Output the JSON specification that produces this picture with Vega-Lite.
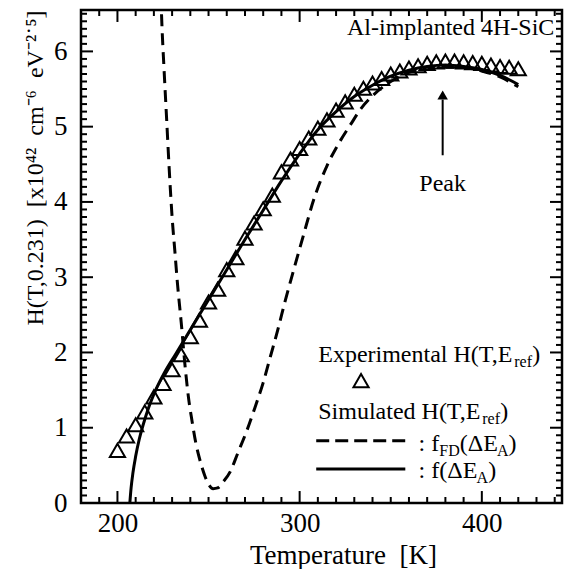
{
  "$schema": "https://vega.github.io/schema/vega-lite/v6.json",
  "width": 481,
  "height": 493,
  "autosize": {"type": "none"},
  "padding": {"left": 81, "top": 10, "right": 10, "bottom": 66},
  "background": "white",
  "config": {
    "view": {"stroke": "black", "strokeWidth": 2.5},
    "font": "Liberation Serif",
    "text": {"font": "Liberation Serif"},
    "axis": {
      "domain": false, "grid": false, "ticks": false,
      "labelFont": "Liberation Serif", "labelFontSize": 27, "labelColor": "black",
      "titleFont": "Liberation Serif", "titleFontSize": 27, "titleFontWeight": "normal", "titleColor": "black"
    }
  },
  "datasets": {
    "exp": [
      {"T":200,"H":0.70},{"T":205,"H":0.89},{"T":210,"H":1.04},{"T":215,"H":1.21},{"T":220,"H":1.41},
      {"T":225,"H":1.59},{"T":230,"H":1.77},{"T":235,"H":1.97},{"T":240,"H":2.21},{"T":245,"H":2.43},
      {"T":250,"H":2.67},{"T":255,"H":2.84},{"T":260,"H":3.10},{"T":265,"H":3.26},{"T":270,"H":3.52},
      {"T":275,"H":3.72},{"T":280,"H":3.91},{"T":285,"H":4.09},{"T":290,"H":4.40},{"T":295,"H":4.57},
      {"T":300,"H":4.71},{"T":305,"H":4.85},{"T":310,"H":4.98},{"T":315,"H":5.09},{"T":320,"H":5.22},
      {"T":325,"H":5.33},{"T":330,"H":5.43},{"T":335,"H":5.51},{"T":340,"H":5.58},{"T":345,"H":5.64},
      {"T":350,"H":5.70},{"T":355,"H":5.74},{"T":360,"H":5.78},{"T":365,"H":5.81},{"T":370,"H":5.84},
      {"T":375,"H":5.86},{"T":380,"H":5.87},{"T":385,"H":5.87},{"T":390,"H":5.86},{"T":395,"H":5.85},
      {"T":400,"H":5.84},{"T":405,"H":5.82},{"T":410,"H":5.80},{"T":415,"H":5.79},{"T":420,"H":5.77}
    ],
    "fd": [
      {"T":223.5,"H":7.0},{"T":224.5,"H":6.3},{"T":225.5,"H":5.8},{"T":227,"H":5.1},{"T":228.5,"H":4.4},
      {"T":230,"H":3.8},{"T":231.5,"H":3.35},{"T":233,"H":2.9},{"T":235,"H":2.4},{"T":237,"H":1.85},
      {"T":239,"H":1.4},{"T":241,"H":1.08},{"T":243,"H":0.8},{"T":245.5,"H":0.55},{"T":248,"H":0.36},
      {"T":250,"H":0.25},{"T":252.5,"H":0.19},{"T":255,"H":0.2},{"T":258,"H":0.28},{"T":262,"H":0.42},
      {"T":266,"H":0.66},{"T":271,"H":0.96},{"T":275.5,"H":1.27},{"T":280,"H":1.6},{"T":284,"H":1.95},
      {"T":288,"H":2.3},{"T":292,"H":2.68},{"T":297,"H":3.12},{"T":302,"H":3.55},{"T":308,"H":4.05},
      {"T":315,"H":4.48},{"T":322,"H":4.8},{"T":328,"H":5.03},{"T":334,"H":5.25},{"T":340,"H":5.41},
      {"T":350,"H":5.6},{"T":360,"H":5.72},{"T":370,"H":5.79},{"T":380,"H":5.81},{"T":390,"H":5.79},
      {"T":400,"H":5.74},{"T":410,"H":5.66},{"T":420,"H":5.53}
    ],
    "fa": [
      {"T":206.8,"H":0},{"T":207.5,"H":0.2},{"T":208.5,"H":0.4},{"T":210,"H":0.62},{"T":212,"H":0.85},
      {"T":214,"H":1.03},{"T":217,"H":1.26},{"T":221,"H":1.5},{"T":226,"H":1.74},{"T":232,"H":1.98},
      {"T":240,"H":2.3},{"T":250,"H":2.7},{"T":260,"H":3.1},{"T":270,"H":3.5},{"T":280,"H":3.89},
      {"T":290,"H":4.28},{"T":300,"H":4.64},{"T":310,"H":4.96},{"T":320,"H":5.2},{"T":330,"H":5.4},
      {"T":340,"H":5.55},{"T":350,"H":5.67},{"T":360,"H":5.75},{"T":370,"H":5.8},{"T":380,"H":5.82},
      {"T":390,"H":5.8},{"T":400,"H":5.76},{"T":410,"H":5.68},{"T":420,"H":5.56}
    ],
    "xmaj": [{"v":200},{"v":300},{"v":400}],
    "xmin": [{"v":180},{"v":190},{"v":210},{"v":220},{"v":230},{"v":240},{"v":250},{"v":260},{"v":270},{"v":280},{"v":290},{"v":310},{"v":320},{"v":330},{"v":340},{"v":350},{"v":360},{"v":370},{"v":380},{"v":390},{"v":410},{"v":420},{"v":430},{"v":440}],
    "ymaj": [{"v":0},{"v":1},{"v":2},{"v":3},{"v":4},{"v":5},{"v":6}],
    "ymin": [{"v":0.1},{"v":0.2},{"v":0.3},{"v":0.4},{"v":0.5},{"v":0.6},{"v":0.7},{"v":0.8},{"v":0.9},{"v":1.1},{"v":1.2},{"v":1.3},{"v":1.4},{"v":1.5},{"v":1.6},{"v":1.7},{"v":1.8},{"v":1.9},{"v":2.1},{"v":2.2},{"v":2.3},{"v":2.4},{"v":2.5},{"v":2.6},{"v":2.7},{"v":2.8},{"v":2.9},{"v":3.1},{"v":3.2},{"v":3.3},{"v":3.4},{"v":3.5},{"v":3.6},{"v":3.7},{"v":3.8},{"v":3.9},{"v":4.1},{"v":4.2},{"v":4.3},{"v":4.4},{"v":4.5},{"v":4.6},{"v":4.7},{"v":4.8},{"v":4.9},{"v":5.1},{"v":5.2},{"v":5.3},{"v":5.4},{"v":5.5},{"v":5.6},{"v":5.7},{"v":5.8},{"v":5.9},{"v":6.1},{"v":6.2},{"v":6.3},{"v":6.4},{"v":6.5}],
    "one": [{}]
  },
  "layer": [
    {
      "data": {"name": "exp"},
      "mark": {"type": "point", "shape": "triangle-up", "filled": false, "stroke": "black", "strokeWidth": 2, "size": 230, "opacity": 1},
      "encoding": {
        "x": {"field": "T", "type": "quantitative", "scale": {"domain": [180, 444], "nice": false, "zero": false},
          "axis": {"orient": "bottom", "title": "Temperature\u00a0 [K]",
            "values": [200, 300, 400], "labelPadding": 7, "labelFlush": false, "labelOverlap": false,
            "titleX": 262, "titleY": 60, "titleAlign": "center", "titleBaseline": "alphabetic", "titleAnchor": "start"}},
        "y": {"field": "H", "type": "quantitative", "scale": {"domain": [0, 6.55], "nice": false, "zero": false},
          "axis": {"orient": "left", "title": "H(T,0.231)\u00a0 [x10\u2074\u00b2\u00a0 cm\u207b\u2076\u00a0 eV\u207b\u00b2\u02d9\u2075]",
            "values": [0, 1, 2, 3, 4, 5, 6], "labelPadding": 14, "labelFlush": false, "labelOverlap": false,
            "titleFontSize": 24, "titleAnchor": "end", "titleX": -46, "titleBaseline": "middle"}}
      }
    },
    {
      "data": {"name": "xmaj"},
      "mark": {"type": "rule", "color": "black", "strokeWidth": 2},
      "encoding": {"x": {"field": "v", "type": "quantitative", "scale": {"domain": [180, 444]}, "axis": null}, "y": {"datum": 0, "type": "quantitative", "scale": {"domain": [0, 6.55]}, "axis": null}, "y2": {"datum": 0.159}}
    },
    {
      "data": {"name": "xmaj"},
      "mark": {"type": "rule", "color": "black", "strokeWidth": 2},
      "encoding": {"x": {"field": "v", "type": "quantitative", "scale": {"domain": [180, 444]}, "axis": null}, "y": {"datum": 6.55, "type": "quantitative", "scale": {"domain": [0, 6.55]}, "axis": null}, "y2": {"datum": 6.391}}
    },
    {
      "data": {"name": "xmin"},
      "mark": {"type": "rule", "color": "black", "strokeWidth": 2},
      "encoding": {"x": {"field": "v", "type": "quantitative", "scale": {"domain": [180, 444]}, "axis": null}, "y": {"datum": 0, "type": "quantitative", "scale": {"domain": [0, 6.55]}, "axis": null}, "y2": {"datum": 0.08}}
    },
    {
      "data": {"name": "xmin"},
      "mark": {"type": "rule", "color": "black", "strokeWidth": 2},
      "encoding": {"x": {"field": "v", "type": "quantitative", "scale": {"domain": [180, 444]}, "axis": null}, "y": {"datum": 6.55, "type": "quantitative", "scale": {"domain": [0, 6.55]}, "axis": null}, "y2": {"datum": 6.47}}
    },
    {
      "data": {"name": "ymaj"},
      "mark": {"type": "rule", "color": "black", "strokeWidth": 2},
      "encoding": {"y": {"field": "v", "type": "quantitative", "scale": {"domain": [0, 6.55]}, "axis": null}, "x": {"datum": 180, "type": "quantitative", "scale": {"domain": [180, 444]}, "axis": null}, "x2": {"datum": 186.6}}
    },
    {
      "data": {"name": "ymaj"},
      "mark": {"type": "rule", "color": "black", "strokeWidth": 2},
      "encoding": {"y": {"field": "v", "type": "quantitative", "scale": {"domain": [0, 6.55]}, "axis": null}, "x": {"datum": 444, "type": "quantitative", "scale": {"domain": [180, 444]}, "axis": null}, "x2": {"datum": 437.4}}
    },
    {
      "data": {"name": "ymin"},
      "mark": {"type": "rule", "color": "black", "strokeWidth": 2},
      "encoding": {"y": {"field": "v", "type": "quantitative", "scale": {"domain": [0, 6.55]}, "axis": null}, "x": {"datum": 180, "type": "quantitative", "scale": {"domain": [180, 444]}, "axis": null}, "x2": {"datum": 183.3}}
    },
    {
      "data": {"name": "ymin"},
      "mark": {"type": "rule", "color": "black", "strokeWidth": 2},
      "encoding": {"y": {"field": "v", "type": "quantitative", "scale": {"domain": [0, 6.55]}, "axis": null}, "x": {"datum": 444, "type": "quantitative", "scale": {"domain": [180, 444]}, "axis": null}, "x2": {"datum": 440.7}}
    },
    {
      "data": {"name": "fa"},
      "mark": {"type": "line", "color": "black", "strokeWidth": 3, "interpolate": "monotone"},
      "encoding": {
        "x": {"field": "T", "type": "quantitative", "scale": {"domain": [180, 444]}, "axis": null},
        "y": {"field": "H", "type": "quantitative", "scale": {"domain": [0, 6.55]}, "axis": null}
      }
    },
    {
      "data": {"name": "fd"},
      "mark": {"type": "line", "color": "black", "strokeWidth": 3, "strokeDash": [12, 7], "interpolate": "monotone", "clip": true},
      "encoding": {
        "x": {"field": "T", "type": "quantitative", "scale": {"domain": [180, 444]}, "axis": null},
        "y": {"field": "H", "type": "quantitative", "scale": {"domain": [0, 6.55]}, "axis": null}
      }
    },
    {
      "data": {"name": "one"},
      "mark": {"type": "text", "text": "Al-implanted 4H-SiC", "fontSize": 24, "align": "left", "baseline": "alphabetic", "color": "black"},
      "encoding": {
        "x": {"datum": 326, "type": "quantitative", "axis": null},
        "y": {"datum": 6.218, "type": "quantitative", "axis": null}
      }
    },
    {
      "data": {"name": "one"},
      "mark": {"type": "rule", "color": "black", "strokeWidth": 2},
      "encoding": {
        "x": {"datum": 378.5, "type": "quantitative", "axis": null},
        "y": {"datum": 4.62, "type": "quantitative", "axis": null},
        "y2": {"datum": 5.36}
      }
    },
    {
      "data": {"name": "one"},
      "mark": {"type": "point", "shape": "triangle-up", "filled": true, "color": "black", "size": 110, "opacity": 1},
      "encoding": {
        "x": {"datum": 378.5, "type": "quantitative", "axis": null},
        "y": {"datum": 5.42, "type": "quantitative", "axis": null}
      }
    },
    {
      "data": {"name": "one"},
      "mark": {"type": "text", "text": "Peak", "fontSize": 24, "align": "center", "baseline": "alphabetic", "color": "black"},
      "encoding": {
        "x": {"datum": 378.5, "type": "quantitative", "axis": null},
        "y": {"datum": 4.15, "type": "quantitative", "axis": null}
      }
    },
    {
      "data": {"name": "one"},
      "layer": [
        {"mark": {"type": "text", "text": "Experimental H(T,E", "fontSize": 24, "align": "left", "baseline": "alphabetic", "color": "black"}},
        {"mark": {"type": "text", "text": "ref", "fontSize": 16, "align": "left", "baseline": "alphabetic", "color": "black", "dx": 196, "dy": 5}},
        {"mark": {"type": "text", "text": ")", "fontSize": 24, "align": "left", "baseline": "alphabetic", "color": "black", "dx": 214}}
      ],
      "encoding": {
        "x": {"datum": 310.2, "type": "quantitative", "axis": null},
        "y": {"datum": 1.869, "type": "quantitative", "axis": null}
      }
    },
    {
      "data": {"name": "one"},
      "mark": {"type": "point", "shape": "triangle-up", "filled": false, "stroke": "black", "strokeWidth": 2, "size": 230, "opacity": 1},
      "encoding": {
        "x": {"datum": 333.7, "type": "quantitative", "axis": null},
        "y": {"datum": 1.625, "type": "quantitative", "axis": null}
      }
    },
    {
      "data": {"name": "one"},
      "layer": [
        {"mark": {"type": "text", "text": "Simulated H(T,E", "fontSize": 24, "align": "left", "baseline": "alphabetic", "color": "black"}},
        {"mark": {"type": "text", "text": "ref", "fontSize": 16, "align": "left", "baseline": "alphabetic", "color": "black", "dx": 164, "dy": 5}},
        {"mark": {"type": "text", "text": ")", "fontSize": 24, "align": "left", "baseline": "alphabetic", "color": "black", "dx": 182}}
      ],
      "encoding": {
        "x": {"datum": 310.2, "type": "quantitative", "axis": null},
        "y": {"datum": 1.112, "type": "quantitative", "axis": null}
      }
    },
    {
      "data": {"name": "one"},
      "mark": {"type": "rule", "color": "black", "strokeWidth": 3, "strokeDash": [13, 6]},
      "encoding": {
        "x": {"datum": 309.1, "type": "quantitative", "axis": null},
        "x2": {"datum": 358.0},
        "y": {"datum": 0.828, "type": "quantitative", "axis": null}
      }
    },
    {
      "data": {"name": "one"},
      "mark": {"type": "rule", "color": "black", "strokeWidth": 3},
      "encoding": {
        "x": {"datum": 309.1, "type": "quantitative", "axis": null},
        "x2": {"datum": 358.0},
        "y": {"datum": 0.452, "type": "quantitative", "axis": null}
      }
    },
    {
      "data": {"name": "one"},
      "layer": [
        {"mark": {"type": "text", "text": ": f", "fontSize": 24, "align": "left", "baseline": "alphabetic", "color": "black"}},
        {"mark": {"type": "text", "text": "FD", "fontSize": 16, "align": "left", "baseline": "alphabetic", "color": "black", "dx": 20.7, "dy": 5}},
        {"mark": {"type": "text", "text": "(\u0394E", "fontSize": 24, "align": "left", "baseline": "alphabetic", "color": "black", "dx": 41.1}},
        {"mark": {"type": "text", "text": "A", "fontSize": 16, "align": "left", "baseline": "alphabetic", "color": "black", "dx": 78.4, "dy": 5}},
        {"mark": {"type": "text", "text": ")", "fontSize": 24, "align": "left", "baseline": "alphabetic", "color": "black", "dx": 90}}
      ],
      "encoding": {
        "x": {"datum": 365.3, "type": "quantitative", "axis": null},
        "y": {"datum": 0.695, "type": "quantitative", "axis": null}
      }
    },
    {
      "data": {"name": "one"},
      "layer": [
        {"mark": {"type": "text", "text": ": f(\u0394E", "fontSize": 24, "align": "left", "baseline": "alphabetic", "color": "black"}},
        {"mark": {"type": "text", "text": "A", "fontSize": 16, "align": "left", "baseline": "alphabetic", "color": "black", "dx": 58, "dy": 5}},
        {"mark": {"type": "text", "text": ")", "fontSize": 24, "align": "left", "baseline": "alphabetic", "color": "black", "dx": 69.6}}
      ],
      "encoding": {
        "x": {"datum": 365.3, "type": "quantitative", "axis": null},
        "y": {"datum": 0.328, "type": "quantitative", "axis": null}
      }
    }
  ],
  "resolve": {"axis": {"x": "independent", "y": "independent"}}
}
